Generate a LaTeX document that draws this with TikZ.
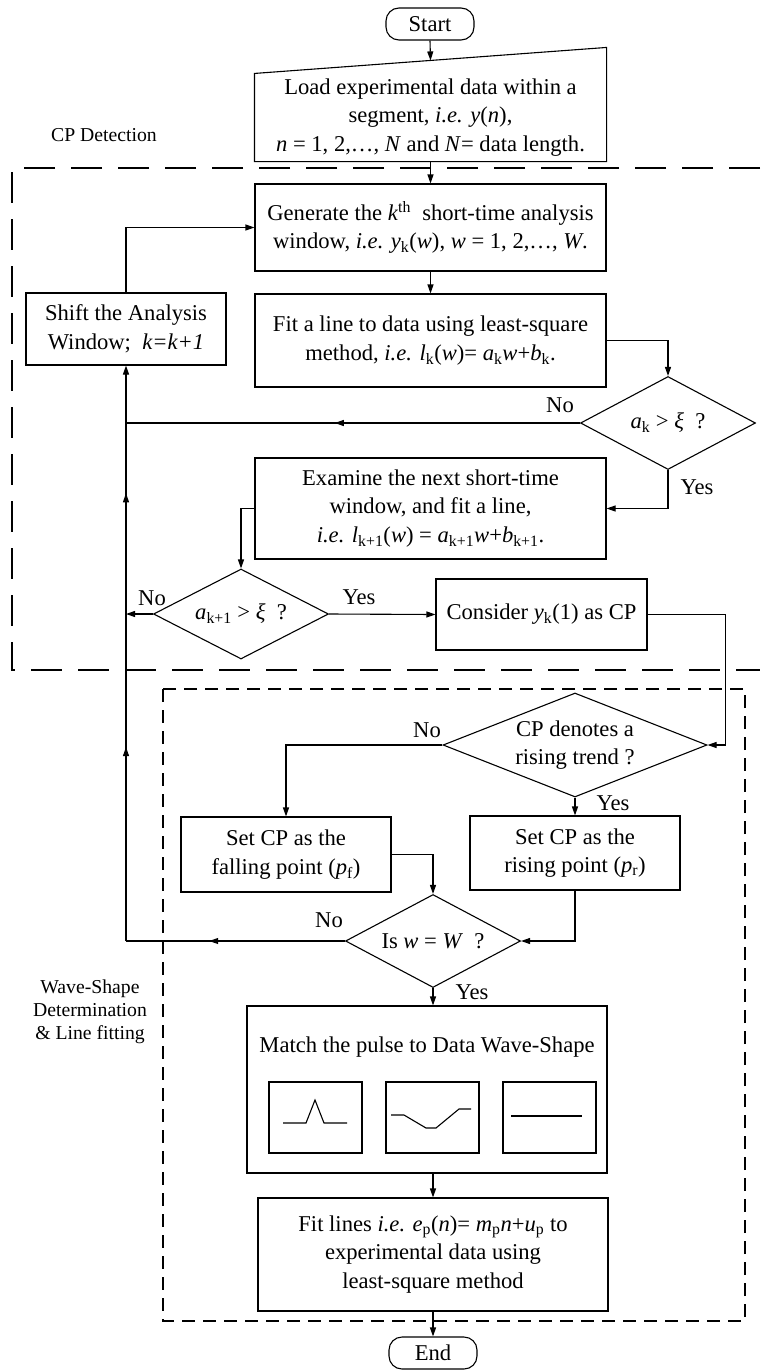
\documentclass[tikz,border=0pt]{standalone}
\usepackage{fontspec}
\setmainfont{Liberation Serif}
\usetikzlibrary{arrows.meta, calc, positioning, shapes.geometric, decorations.markings}
\newcommand{\ie}{\textit{i.e.}}
\newcommand{\isub}[2]{\textit{#1}\textsubscript{#2}}

\begin{document}
\begin{tikzpicture}[
x=1pt, y=-1pt,
font=\fontsize{22.6}{28.5}\selectfont,
wire/.style = {draw, line width=1.1pt},
flow/.style = {wire, -{Triangle[length=9pt, width=6pt]}},
midtip/.style = {postaction={decorate}, decoration={markings, mark=at position #1 with {\arrow{Triangle[length=9pt, width=6pt]}}}},
looptips/.style = {postaction={decorate}, decoration={markings,
    mark=at position 0.337 with {\arrow{Triangle[length=9pt, width=6pt]}},
    mark=at position 0.778 with {\arrow{Triangle[length=9pt, width=6pt]}}}},
proc/.style = {wire, rectangle, align=center, inner sep=0pt},
decide/.style = {wire, diamond, align=center, inner sep=0pt, aspect=1.85, minimum width=175pt, minimum height=93pt},
terminal/.style = {wire, rectangle, rounded corners=13pt, minimum width=88pt, minimum height=32pt, inner sep=0pt},
answer/.style = {inner sep=0pt},
zonelabel/.style = {align=center, inner sep=0pt, font=\fontsize{19.7}{23}\selectfont},
cpzone/.style = {draw, line width=2.2pt, dash pattern=on 31pt off 16pt},
wszone/.style = {draw, line width=2pt, dash pattern=on 13pt off 8pt}
]
\path[use as bounding box, fill=white] (0,0) rectangle (760,1370);

% detection part
\node[terminal] (start) at (430,24) {Start};
\node[proc, draw=none, minimum width=351pt, minimum height=87pt] (load) at (430.5,117.5)
  {Load experimental data within a\\ segment, \ie{} \textit{y}(\textit{n}),\\
   \textit{n} = 1, 2,\ldots, \textit{N} and \textit{N}= data length.};
\draw[wire] (load.south west) -- (load.south east) -- ([yshift=26pt]load.north east) -- (load.north west) -- cycle;
\coordinate (loadin) at ($(load.north west)!0.5!([yshift=26pt]load.north east)$);
\node[proc, minimum width=351pt, minimum height=87pt] (gen) at (430.5,227.5)
  {Generate the \textit{k}\textsuperscript{th}\ \ short-time analysis\\
   window, \ie{} \isub{y}{k}(\textit{w}), \textit{w} = 1, 2,\ldots, \textit{W}.};
\node[proc, minimum width=351pt, minimum height=93pt] (fit) at (430.5,340.5)
  {Fit a line to data using least-square\\
   method, \ie{} \isub{l}{k}(\textit{w})= \isub{a}{k}\textit{w}+\isub{b}{k}.};
\node[proc, minimum width=200pt, minimum height=72pt] (shift) at (126,329)
  {Shift the Analysis\\ Window;\ \ \textit{k=k+1}};
\node[decide] (ak) at (668,423) {\isub{a}{k} > \textit{ξ}\ \ ?};
\node[proc, minimum width=351pt, minimum height=101pt] (exam) at (430.5,508.5)
  {Examine the next short-time\\ window, and fit a line,\\
   \ie{} \isub{l}{k+1}(\textit{w}) = \isub{a}{k+1}\textit{w}+\isub{b}{k+1}.};
\node[decide, minimum height=90pt] (akn) at (241,614) {\isub{a}{k+1} > \textit{ξ}\ \ ?};
\node[proc, minimum width=211pt, minimum height=71pt] (cons) at (541.5,614.5)
  {Consider \isub{y}{k}(1) as CP};

\node[answer] (no1) at (560,405) {No};
\node[answer] (yes1) at (697,487) {Yes};
\node[answer] (no2) at (152,598) {No};
\node[answer] (yes2) at (359,597) {Yes};

% wave-shape part
\node[decide, aspect=2.54, minimum width=264pt, minimum height=104pt] (trend) at (575,745)
  {CP denotes a\\ rising trend ?};
\node[proc, minimum width=210pt, minimum height=75pt] (setf) at (286,854.5)
  {Set CP as the\\ falling point (\isub{p}{f})};
\node[proc, minimum width=210pt, minimum height=74pt] (setr) at (575,853)
  {Set CP as the\\ rising point (\isub{p}{r})};
\node[decide] (isw) at (433,941) {Is \textit{w} = \textit{W}\ \ ?};
\node[proc, minimum width=360pt, minimum height=167pt] (match) at (427,1089.5) {};
\node[inner sep=0pt] (matchtext) at (427,1047) {Match the pulse to Data Wave-Shape};
\node[proc, minimum width=93pt, minimum height=71pt] (wave1) at (315.5,1117.5) {};
\node[proc, minimum width=93pt, minimum height=71pt] (wave2) at (432.5,1117.5) {};
\node[proc, minimum width=93pt, minimum height=71pt] (wave3) at (549.5,1117.5) {};
\draw[wire] (283,1123) -- (306,1123) -- (315,1100) -- (324,1123) -- (347,1123);
\draw[wire] (391,1115) -- (404,1115) -- (426,1128) -- (436,1128) -- (459,1109) -- (471,1109);
\draw[wire] (511,1116) -- (582,1116);
\node[proc, minimum width=350pt, minimum height=113pt] (fitl) at (433,1254.5)
  {Fit lines \ie{} \isub{e}{p}(\textit{n})= \isub{m}{p}\textit{n}+\isub{u}{p} to\\
   experimental data using\\ least-square method};
\node[terminal] (finish) at (433,1353) {End};

\node[answer] (no3) at (427,730) {No};
\node[answer] (yes3) at (613,803) {Yes};
\node[answer] (no4) at (329,920) {No};
\node[answer] (yes4) at (472,992) {Yes};

% zones
\draw[cpzone] (760,168) -- (12,168) -- (12,670) -- (760,670);
\draw[wszone] (163,689) rectangle (745,1321);
\node[zonelabel] (cptitle) at (104,135) {CP Detection};
\node[zonelabel] (wstitle) at (90,1012) {Wave-Shape\\ Determination\\ \& Line fitting};

% connectors
\draw[flow] (start.south) -- (loadin);
\draw[flow] (load.south) -- (gen.north);
\draw[flow] (gen.south) -- (fit.north);
\draw[flow] (fit.east) -| (ak.north);
\draw[wire, midtip=0.54] (ak.west) -- (ak.west -| shift.south);
\draw[flow] (shift.north) |- (gen.west);
\draw[flow] (ak.south) |- (exam.east);
\draw[flow] (exam.west) -| (akn.north);
\draw[flow] (akn.west) -- (akn.west -| shift.south);
\draw[flow] (akn.east) -- (cons.west);
\draw[flow] (cons.east) -- ++(78,0) |- (trend.east);
\draw[flow] (trend.west) -| (setf.north);
\draw[flow] (trend.south) -- (setr.north);
\draw[flow] (setf.east) -| (isw.north);
\draw[flow] (setr.south) |- (isw.east);
\coordinate (loopfoot) at (isw.west -| shift.south);
\draw[wire, midtip=0.62] (isw.west) -- (loopfoot);
\draw[flow, looptips] (loopfoot) -- (shift.south);
\draw[flow] (isw.south) -- (isw.south |- match.north);
\draw[flow] (match.south -| fitl.north) -- (fitl.north);
\draw[flow] (fitl.south) -- (finish.north);
\end{tikzpicture}
\end{document}
